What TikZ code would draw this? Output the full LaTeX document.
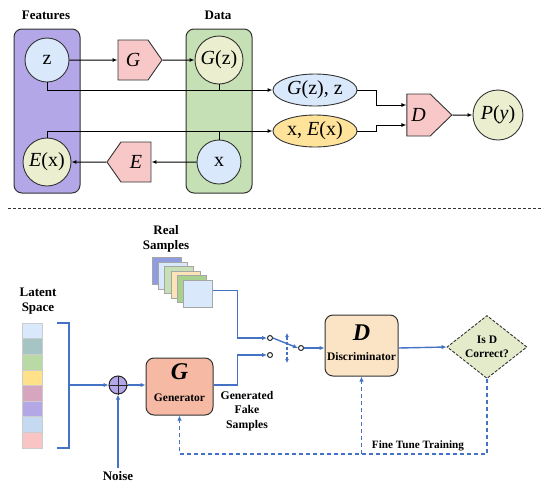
\documentclass[tikz,border=0pt]{standalone}
\usepackage{fontspec}
\setmainfont{Liberation Serif}
\usetikzlibrary{arrows.meta,shapes.symbols,shapes.geometric,calc}
\definecolor{purp}{HTML}{B4A7E8}
\definecolor{grn}{HTML}{C5E0B4}
\definecolor{lblue}{HTML}{DAE8FC}
\definecolor{lyel}{HTML}{EBEFD0}
\definecolor{pnk}{HTML}{F8C8C8}
\definecolor{ora}{HTML}{FFE39A}
\definecolor{bl}{HTML}{4472C4}
\definecolor{salmon}{HTML}{F6B9A4}
\definecolor{peach}{HTML}{FBE3C6}
\definecolor{dia}{HTML}{E3EBCB}
\tikzset{
  grp/.style={draw=black!80, line width=1pt, rounded corners=8pt, minimum width=66pt, minimum height=164pt},
  circ/.style={circle, draw=black!80, line width=0.9pt, inner sep=0pt, font=\fontsize{20}{22}\selectfont},
  ell/.style={ellipse, draw=black!80, line width=0.9pt, inner sep=0pt, minimum width=84pt, minimum height=32pt, font=\fontsize{20}{22}\selectfont},
  pent/.style={signal, draw=black!80, line width=0.9pt, fill=pnk, inner sep=0pt, font=\fontsize{20}{22}\selectfont\itshape},
  arr/.style={line width=1pt, -{Latex[length=5pt,width=4pt]}},
  ln/.style={line width=1pt},
  barr/.style={bl, line width=1.4pt, -{Latex[length=5pt,width=4.5pt]}},
  bln/.style={bl, line width=1.4pt},
  fb/.style={bl, line width=1.3pt, dash pattern=on 4pt off 3pt, -{Latex[length=5pt,width=4.5pt]}},
  lbl/.style={font=\fontsize{13}{15}\selectfont\bfseries, align=center},
  slbl/.style={font=\fontsize{11.5}{14}\selectfont\bfseries, align=center},
  cell/.style={draw=black!20, line width=0.5pt, minimum width=20pt, minimum height=15.6pt, inner sep=0pt},
  sq/.style={draw=black!35, line width=0.5pt, minimum width=29pt, minimum height=27pt, inner sep=0pt, anchor=north west},
  sw/.style={circle, draw=black!85, line width=1pt, fill=white, minimum size=5pt, inner sep=0pt},
}
\begin{document}
\begin{tikzpicture}[x=1pt,y=-1pt]
\useasboundingbox (0,0) rectangle (550,488);
% ---------- top ----------
\node[lbl] (flab) at (46,15) {Features};
\node[lbl] (dlab) at (218,15) {Data};
\node[grp, fill=purp] (fbox) at (47,111) {};
\node[grp, fill=grn] (dbox) at (219,111) {};
\node[circ, fill=lblue, minimum size=44pt] (z) at (47,60) {z};
\node[circ, fill=lyel, minimum size=48pt] (Ex) at (47,162) {{\itshape E}(x)};
\node[circ, fill=lyel, minimum size=48pt] (Gz) at (219,60) {{\itshape G}(z)};
\node[circ, fill=lblue, minimum size=44pt] (x) at (219,162) {x};
\node[pent, signal to=east, signal pointer angle=110, minimum width=44pt, minimum height=40pt] (G) at (133,60) {G};
\node[pent, signal to=west, signal pointer angle=110, minimum width=44pt, minimum height=40pt] (E) at (136,162) {E};
\node[ell, fill=lblue] (gzz) at (315,90) {{\itshape G}(z), z};
\node[ell, fill=ora] (xex) at (315,131) {x, {\itshape E}(x)};
\node[pent, signal to=east, signal pointer angle=88, minimum width=45pt, minimum height=42pt] (D) at (418.5,115) {D};
\node[circ, fill=lyel, minimum size=50pt] (P) at (498,115) {{\itshape P}({\itshape y})};
\draw[arr] (z) -- (G);
\draw[arr] (G) -- (Gz);
\draw[arr] (x) -- (E);
\draw[arr] (E) -- (Ex);
\draw[arr] (z.south) |- (gzz.west);
\draw[ln] (Gz.south) -- (Gz.south |- gzz.west);
\draw[arr] (Ex.north) |- (xex.west);
\draw[ln] (x.north) -- (x.north |- xex.west);
\draw[arr] (gzz.east) -- ++(19,0) |- ($(D.west)+(0,-10)$);
\draw[arr] (xex.east) -- ++(19,0) |- ($(D.west)+(0,10)$);
\draw[arr] (D) -- (P);
% separator
\coordinate (sepl) at (8,208);
\coordinate (sepr) at (543,208);
\draw[black!80, line width=0.9pt, dash pattern=on 3pt off 2pt] (sepl) -- (sepr);
% ---------- bottom ----------
\node[lbl] (rlab) at (166,239) {Real\\Samples};
\foreach \c [count=\i] in {8F9DE0,DAE8FC,C5E0B4,FCE4B8,A9D18E,DAE8FC}{
  \definecolor{tmp}{HTML}{\c}
  \node[sq, fill=tmp] (s\i) at ({152+6.2*(\i-1)},{257+4.6*(\i-1)}) {};
}
\node[lbl] (llab) at (38,301) {Latent\\Space};
\foreach \c [count=\i] in {DAE8FC,A5C4C4,B9D9A5,FFE18A,D5A6BD,B4A7E5,C5D9F1,F8C4C4}{
  \definecolor{tmp}{HTML}{\c}
  \node[cell, fill=tmp] (l\i) at (32,{323+15.6*(\i-0.5)}) {};
}
\coordinate (bt) at (57,323);
\coordinate (bb) at (57,448);
\coordinate (bm) at (69,385);
\draw[bln] (bt) -- ++(12,0) |- (bb);
\node[circle, draw=black!85, line width=1pt, fill=purp, minimum size=18pt, inner sep=0pt] (op) at (118,385) {};
\draw[line width=1pt, black!85] (op.north) -- (op.south) (op.west) -- (op.east);
\draw[barr] (bm) -- (op.west);
\node[lbl] (noise) at (118,476) {Noise};
\draw[barr] (noise.north) -- (op.south);
\node[draw=black!80, line width=1pt, fill=salmon, rounded corners=8pt, minimum width=67pt, minimum height=57pt, inner sep=0pt] (gen) at (179.5,386.5) {};
\node[font=\fontsize{24}{26}\selectfont\bfseries\itshape] (gG) at (179.5,372) {G};
\node[slbl] (gT) at (179.5,398) {Generator};
\draw[barr] (op.east) -- (op.east -| gen.west);
\node[slbl, font=\fontsize{11.7}{14.5}\selectfont\bfseries] (fake) at (247,411) {Generated\\Fake\\Samples};
% switch
\node[sw] (c1) at (270,338) {};
\node[sw] (c2) at (270,355) {};
\node[sw] (c3) at (301,348) {};
\draw[barr] ($(s6.east)+(0,-3)$) -- ++(25,0) |- (c1.west);
\draw[barr] (gen.east |- op.east) -- ++(24,0) |- (c2.west);
\draw[barr] (c1.east) -- (c3.west);
\coordinate (vt) at (287,333);
\coordinate (vb) at (287,363);
\draw[bl, line width=1.1pt, dash pattern=on 3pt off 2pt, {Latex[length=4pt,width=4pt]}-{Latex[length=4pt,width=4pt]}] (vt) -- (vb);
% discriminator
\node[draw=black!80, line width=1pt, fill=peach, rounded corners=8pt, minimum width=73pt, minimum height=61pt, inner sep=0pt] (disc) at (361.5,345.5) {};
\node[font=\fontsize{24}{26}\selectfont\bfseries\itshape] (dD) at (361.5,333) {D};
\node[slbl] (dT) at (361.5,357) {Discriminator};
\draw[barr] (c3.east) -- (c3.east -| disc.west);
\node[diamond, draw=black!80, dash pattern=on 3pt off 1.5pt, line width=0.9pt, fill=dia, minimum width=80pt, minimum height=63pt, inner sep=0pt, aspect=1.27, slbl] (dia) at (487,347) {Is D\\Correct?};
\draw[barr] (disc.east |- c3.east) -- (dia.west);
\draw[fb] (dia.south) -- ++(0,75) coordinate (fbc) -| (gen.south);
\draw[fb] (disc.south |- fbc) -- (disc.south);
\node[slbl, font=\fontsize{11.2}{13}\selectfont\bfseries] (ft) at (418,446) {Fine Tune Training};
\end{tikzpicture}
\end{document}
